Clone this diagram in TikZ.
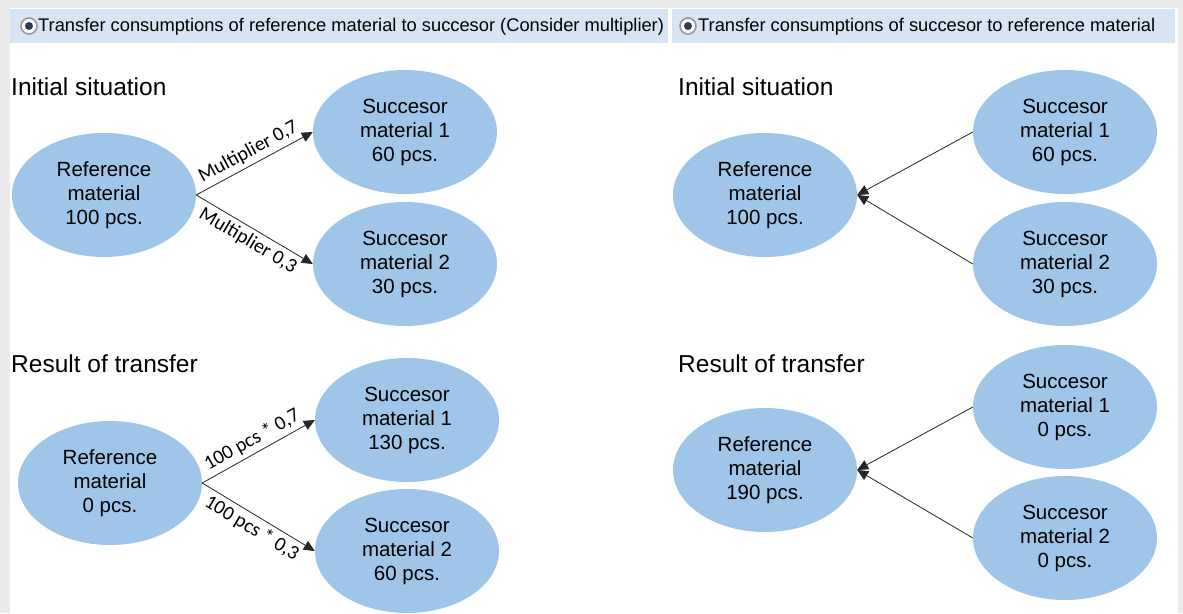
\documentclass[tikz,border=0pt]{standalone}
\usepackage{fontspec}
\setmainfont{Liberation Sans}
\newfontfamily\labelfont{Carlito}
\usetikzlibrary{arrows.meta, shapes.geometric}
\definecolor{frameGray}{HTML}{EBEBEB}
\definecolor{headerBlue}{HTML}{D6E4F3}
\definecolor{nodeBlue}{HTML}{9FC5E8}
\definecolor{radioDot}{HTML}{2E3A59}

\tikzset{
    matnode/.style={ellipse, fill=nodeBlue, minimum width=184pt, minimum height=124pt,
        inner sep=0pt, align=center, font=\fontsize{20.5}{24}\selectfont},
    flow/.style={draw=black!85, line width=0.8pt, -{Triangle[length=11pt, width=10pt]}},
    heading/.style={anchor=base west, inner sep=0pt, font=\fontsize{24.5}{28}\selectfont},
    edgelabel/.style={sloped, inner sep=4pt, font=\labelfont\fontsize{20}{24}\selectfont},
    headertext/.style={anchor=west, inner sep=0pt, font=\fontsize{18.3}{20}\selectfont}
}

\begin{document}
\begin{tikzpicture}[x=1pt, y=-1pt]
    \useasboundingbox (0,0) rectangle (1183,613);
    \fill[frameGray] (0,0) rectangle (1183,613);
    \fill[white] (10,8) rectangle (1178,613);

    % option bar
    \fill[headerBlue] (10,9) rectangle (668,43);
    \fill[headerBlue] (672,9) rectangle (1175,43);
    \foreach \rx in {29,688} {
        \filldraw[fill=white, draw=black!40, line width=1.6pt] (\rx,26) circle (8pt);
        \fill[radioDot] (\rx,26) circle (4pt);
    }
    \node[headertext] (optA) at (38,27) {Transfer consumptions of reference material to succesor (Consider multiplier)};
    \node[headertext] (optB) at (698,27) {Transfer consumptions of succesor to reference material};

    % left: reference to successor
    \node[heading] (initA) at (11,95) {Initial situation};
    \node[matnode] (refA) at (104,195) {Reference\\material\\100 pcs.};
    \node[matnode] (sucA1) at (405,132) {Succesor\\material 1\\60 pcs.};
    \node[matnode] (sucA2) at (405,264) {Succesor\\material 2\\30 pcs.};
    \draw[flow] (refA.east) -- node[edgelabel, above] {Multiplier 0,7} (sucA1.west);
    \draw[flow] (refA.east) -- node[edgelabel, below] {Multiplier 0,3} (sucA2.west);

    \node[heading] (resA) at (11,372) {Result of transfer};
    \node[matnode] (refB) at (110,483) {Reference\\material\\0 pcs.};
    \node[matnode] (sucB1) at (407,420) {Succesor\\material 1\\130 pcs.};
    \node[matnode] (sucB2) at (407,551) {Succesor\\material 2\\60 pcs.};
    \draw[flow] (refB.east) -- node[edgelabel, above] {100 pcs * 0,7} (sucB1.west);
    \draw[flow] (refB.east) -- node[edgelabel, below] {100 pcs * 0,3} (sucB2.west);

    % right: successor to reference
    \node[heading] (initB) at (678,95) {Initial situation};
    \node[matnode] (refC) at (765,195) {Reference\\material\\100 pcs.};
    \node[matnode] (sucC1) at (1065,132) {Succesor\\material 1\\60 pcs.};
    \node[matnode] (sucC2) at (1065,264) {Succesor\\material 2\\30 pcs.};
    \draw[flow] (sucC1.west) -- (refC.east);
    \draw[flow] (sucC2.west) -- (refC.east);

    \node[heading] (resB) at (678,372) {Result of transfer};
    \node[matnode] (refD) at (765,470) {Reference\\material\\190 pcs.};
    \node[matnode] (sucD1) at (1065,407) {Succesor\\material 1\\0 pcs.};
    \node[matnode] (sucD2) at (1065,538) {Succesor\\material 2\\0 pcs.};
    \draw[flow] (sucD1.west) -- (refD.east);
    \draw[flow] (sucD2.west) -- (refD.east);
\end{tikzpicture}
\end{document}
